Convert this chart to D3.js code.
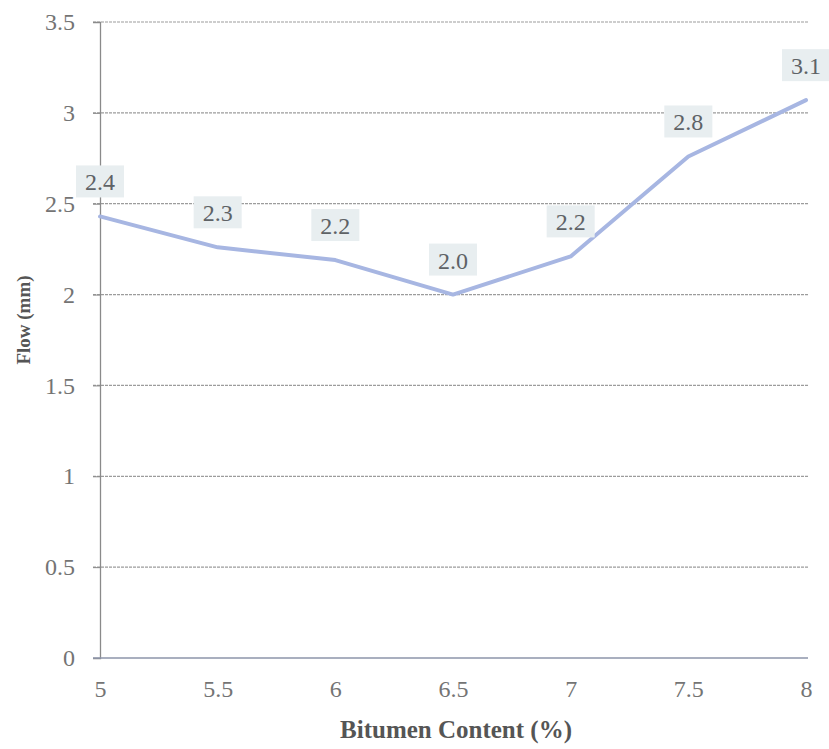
<!DOCTYPE html>
<html>
<head>
<meta charset="utf-8">
<script src="https://cdn.jsdelivr.net/npm/d3@7"></script>
<style>
  html, body { margin: 0; padding: 0; background: #fff; }
  svg { display: block; }
  text { font-family: 'Liberation Serif', 'Times New Roman', serif; }
</style>
</head>
<body>
<svg id="chart" width="829" height="749"></svg>
<script>
// ---- data ----
const bitumen = [5, 5.5, 6, 6.5, 7, 7.5, 8];
const flow = [2.43, 2.26, 2.19, 2.0, 2.21, 2.76, 3.07];
const xTicks = [5, 5.5, 6, 6.5, 7, 7.5, 8];
const yTicks = [0, 0.5, 1, 1.5, 2, 2.5, 3, 3.5];
const xTitle = "Bitumen Content (%)";
const yTitle = "Flow (mm)";

const svg = d3.select("#chart");
const font = "'Liberation Serif', 'Times New Roman', serif";

const x = d3.scaleLinear().domain([5, 8]).range([100, 806]);
const y = d3.scaleLinear().domain([0, 3.5]).range([658, 22]);

// gridlines
svg.append("g").selectAll("line").data(yTicks.filter(d => d > 0)).join("line")
  .attr("x1", 93).attr("x2", 808)
  .attr("y1", d => y(d)).attr("y2", d => y(d))
  .attr("stroke", "#9c9c9c").attr("stroke-width", 1.2)
  .attr("stroke-dasharray", "3,1");

// y axis
const yAxis = d3.axisLeft(y).tickValues(yTicks).tickSize(7).tickPadding(18)
  .tickFormat(d => String(d));
const gy = svg.append("g").attr("transform", "translate(100,0)").call(yAxis);
gy.attr("font-family", null);
gy.select(".domain").attr("stroke", "#8a8a8a").attr("stroke-width", 1.3);
gy.selectAll(".tick line").attr("stroke", "#8a8a8a");
gy.selectAll(".tick text").attr("font-family", font).attr("font-size", 24)
  .attr("fill", "#747474");

// x axis
const xAxis = d3.axisBottom(x).tickValues(xTicks).tickSize(0).tickPadding(22)
  .tickFormat(d => String(d));
const gx = svg.append("g").attr("transform", "translate(0,658)").call(xAxis);
gx.attr("font-family", null);
gx.select(".domain").attr("stroke", "#8c95aa").attr("stroke-width", 1.5)
  .attr("d", "M93,0H808");
gx.selectAll(".tick text").attr("font-family", font).attr("font-size", 24)
  .attr("fill", "#747474");

// line
const line = d3.line().x((d, i) => x(bitumen[i])).y(d => y(d));
svg.append("path").datum(flow)
  .attr("d", line)
  .attr("fill", "none")
  .attr("stroke", "#a7b6e2")
  .attr("stroke-width", 4)
  .attr("stroke-linejoin", "round")
  .attr("stroke-linecap", "round");

// data labels
const lab = svg.append("g");
flow.forEach((v, i) => {
  const cx = x(bitumen[i]);
  const by = y(v) - 26;
  const g = lab.append("g");
  const rect = g.append("rect");
  const t = g.append("text")
    .attr("x", cx).attr("y", by)
    .attr("text-anchor", "middle")
    .attr("font-family", font).attr("font-size", 24)
    .attr("fill", "#5e6266")
    .text(v.toFixed(1));
  const bb = t.node().getBBox();
  rect.attr("x", bb.x - 9).attr("y", bb.y - 4)
    .attr("width", bb.width + 18).attr("height", bb.height + 6)
    .attr("fill", "#e8eef0");
});

// axis titles
svg.append("text")
  .attr("x", 456).attr("y", 738)
  .attr("text-anchor", "middle")
  .attr("font-family", font).attr("font-size", 25).attr("font-weight", "bold")
  .attr("fill", "#555")
  .text(xTitle);

svg.append("text")
  .attr("transform", "translate(30,320) rotate(-90)")
  .attr("text-anchor", "middle")
  .attr("font-family", font).attr("font-size", 19).attr("font-weight", "bold")
  .attr("fill", "#555")
  .text(yTitle);
</script>
</body>
</html>
